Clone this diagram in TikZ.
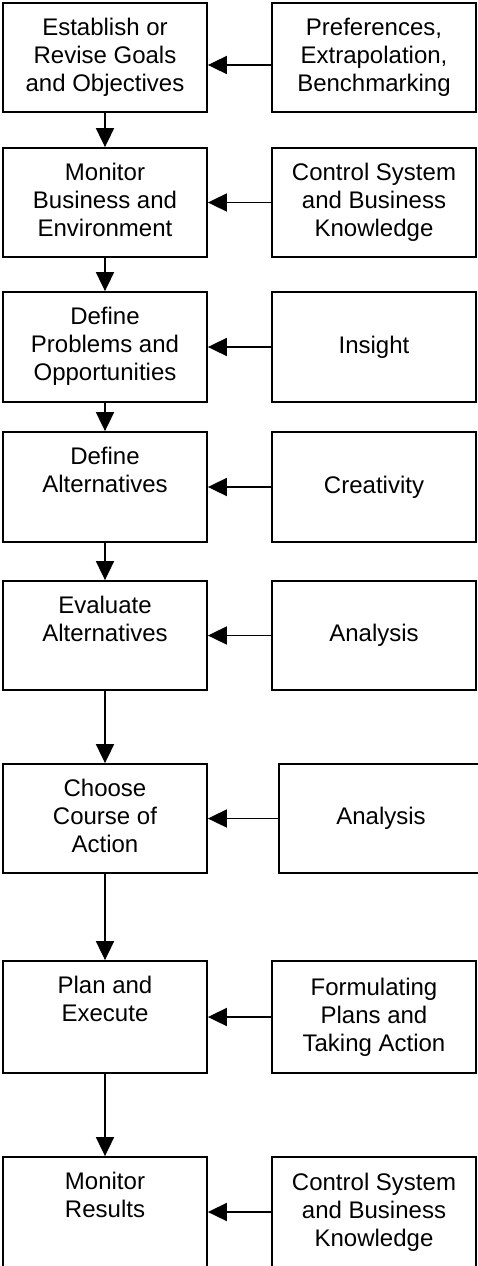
\documentclass[tikz,border=0pt]{standalone}
\usepackage{fontspec}
\setmainfont{Liberation Sans}
\usetikzlibrary{arrows.meta}

% left column: text sits at the top of the box
\newcommand{\toptext}[2]{\parbox[c][#1][t]{200pt}{\centering\rule{0pt}{32.5pt}#2}}
% right column: text centred in the box
\newcommand{\midtext}[2]{\parbox[c][#1][c]{200pt}{\centering #2}}

\begin{document}
\begin{tikzpicture}[x=1pt,y=-1pt,
  every node/.style={font=\fontsize{24pt}{28pt}\selectfont},
  stepbox/.style={draw=black, line width=1.8pt, rectangle, inner sep=0pt,
    minimum width=204pt, fill=white},
  flow/.style={draw=black, line width=1.8pt,
    -{Triangle[length=19pt,width=18pt]}}]

\fill[white] (0,0) rectangle (478,1266);
\useasboundingbox (0,0) rectangle (478,1266);

% process steps (left column)
\node[stepbox, minimum height=109pt] (l1) at (105,57.5)
  {\toptext{109pt}{Establish or\\Revise Goals\\and Objectives}};
\node[stepbox, minimum height=109pt] (l2) at (105,202.5)
  {\toptext{109pt}{Monitor\\Business and\\Environment}};
\node[stepbox, minimum height=110pt] (l3) at (105,347)
  {\toptext{110pt}{Define\\Problems and\\Opportunities}};
\node[stepbox, minimum height=110pt] (l4) at (105,487)
  {\toptext{110pt}{Define\\Alternatives}};
\node[stepbox, minimum height=109pt] (l5) at (105,635.5)
  {\toptext{109pt}{Evaluate\\Alternatives}};
\node[stepbox, minimum height=109pt] (l6) at (105,818.5)
  {\toptext{109pt}{Choose\\Course of\\Action}};
\node[stepbox, minimum height=112pt] (l7) at (105,1017)
  {\toptext{112pt}{Plan and\\Execute}};
\node[stepbox, minimum height=110pt] (l8) at (105,1212)
  {\toptext{110pt}{Monitor\\Results}};

% supporting inputs (right column)
\node[stepbox, minimum height=109pt] (r1) at (374,57.5)
  {\midtext{109pt}{Preferences,\\Extrapolation,\\Benchmarking}};
\node[stepbox, minimum height=109pt] (r2) at (374,202.5)
  {\midtext{109pt}{Control System\\and Business\\Knowledge}};
\node[stepbox, minimum height=110pt] (r3) at (374,347)
  {\midtext{110pt}{Insight}};
\node[stepbox, minimum height=110pt] (r4) at (374,487)
  {\midtext{110pt}{Creativity}};
\node[stepbox, minimum height=109pt] (r5) at (374,635.5)
  {\midtext{109pt}{Analysis}};
\node[stepbox, minimum height=109pt] (r6) at (381,818.5)
  {\midtext{109pt}{Analysis}};
\node[stepbox, minimum height=112pt] (r7) at (374,1017)
  {\midtext{112pt}{Formulating\\Plans and\\Taking Action}};
\node[stepbox, minimum height=110pt] (r8) at (374,1212)
  {\midtext{110pt}{Control System\\and Business\\Knowledge}};

% flow down the left column
\foreach \a/\b in {l1/l2, l2/l3, l3/l4, l4/l5, l5/l6, l6/l7, l7/l8}
  \draw[flow] (\a.south) -- (\b.north);

% inputs feeding each step
\draw[flow] ([yshift=-7.5pt]r1.west) -- ([yshift=-7.5pt]l1.east);
\foreach \k in {2,...,8}
  \draw[flow] (r\k.west) -- (l\k.east);

\end{tikzpicture}
\end{document}
